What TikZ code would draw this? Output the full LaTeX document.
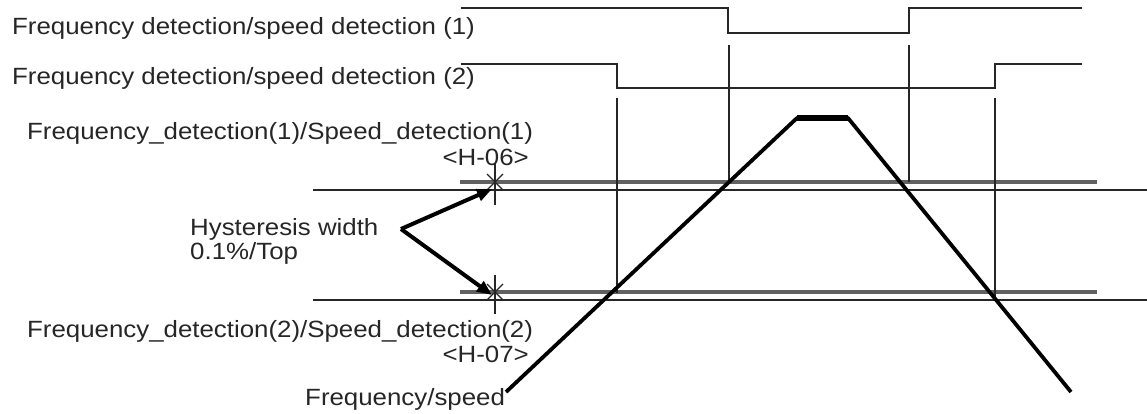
\documentclass[tikz,border=0pt]{standalone}
\usepackage{fontspec}
\setmainfont[FakeStretch=1.1]{Liberation Sans}
\usetikzlibrary{arrows.meta,calc}
\begin{document}
\begin{tikzpicture}[x=1pt,y=-1pt,
  lbl/.style={font=\fontsize{23.5}{28}\selectfont, inner sep=0pt, text=black!85},
  sig/.style={line width=2.2pt, black!85},
  refline/.style={line width=1.7pt, black!85},
  band/.style={line width=3.4pt, black!62},
  vmark/.style={line width=2.8pt, black!85},
  tick/.style={line width=1.3pt, black!85},
  speed/.style={line width=3.8pt, black},
  harrow/.style={line width=4pt, black, -{Triangle[length=15pt,width=12pt]}},
]
\useasboundingbox (0,0) rectangle (1147,414);

% labels
\node[lbl, anchor=base west] (t1) at (12,35) {Frequency detection/speed detection (1)};
\node[lbl, anchor=base west] (t2) at (12,85) {Frequency detection/speed detection (2)};
\node[lbl, anchor=base west] (t3) at (27,140) {Frequency\_detection(1)/Speed\_detection(1)};
\node[lbl, anchor=base east] (h6) at (529,165) {<H-06>};
\node[lbl, anchor=base west] (hy1) at (190,235) {Hysteresis width};
\node[lbl, anchor=base west] (hy2) at (190,259) {0.1\%/Top};
\node[lbl, anchor=base west] (t4) at (27,337) {Frequency\_detection(2)/Speed\_detection(2)};
\node[lbl, anchor=base east] (h7) at (529,362) {<H-07>};
\node[lbl, anchor=base west] (fs) at (305,405) {Frequency/speed};

% signal 1
\draw[sig] (461,8) -- (728,8) -- (728,33) -- (909,33) -- (909,8) -- (1082,8);
% signal 2
\draw[sig] (461,64) -- (617,64) -- (617,88) -- (995,88) -- (995,64) -- (1082,64);

% level reference lines
\draw[band] (460,182) -- (1097,182);
\draw[band] (460,292) -- (1097,292);
\draw[refline] (313,190) -- (1147,190);
\draw[refline] (313,300) -- (1147,300);

% vertical markers
\draw[vmark] (617,98) -- (617,293);
\draw[vmark] (729,45) -- (729,180);
\draw[vmark] (909,45) -- (909,182);
\draw[vmark] (995,98) -- (995,300);

% ticks with asterisks
\coordinate (k1) at (495,182);
\coordinate (k2) at (495,292);
\draw[tick] (495,163) -- (495,205);
\draw[tick] ($(k1)+(-8,-8)$) -- ($(k1)+(8,8)$);
\draw[tick] ($(k1)+(-8,8)$) -- ($(k1)+(8,-8)$);
\draw[tick] (495,275) -- (495,314);
\draw[tick] ($(k2)+(-8,-8)$) -- ($(k2)+(8,8)$);
\draw[tick] ($(k2)+(-8,8)$) -- ($(k2)+(8,-8)$);

% hysteresis arrows
\coordinate (apex) at (401,229);
\draw[harrow] (apex) -- (492,189);
\draw[harrow] (apex) -- (492,295);

% frequency / speed profile
\coordinate (s0) at (506,392);
\coordinate (s1) at (797,118);
\coordinate (s2) at (848,118);
\coordinate (s3) at (1071,392);
\draw[speed, line join=round] (s0) -- (s1) -- (s2) -- (s3);
\draw[line width=5.5pt] (s1) -- (s2);
\end{tikzpicture}
\end{document}
